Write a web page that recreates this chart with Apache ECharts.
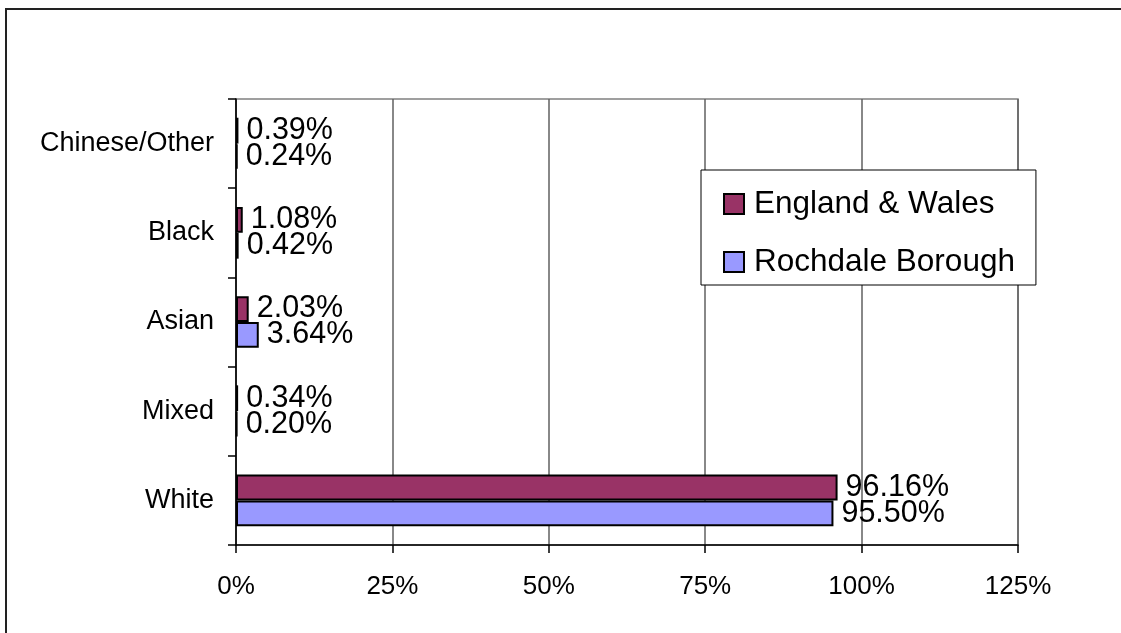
<!DOCTYPE html>
<html>
<head>
<meta charset="utf-8">
<script src="https://cdn.jsdelivr.net/npm/echarts@6/dist/echarts.min.js"></script>
<style>html,body{margin:0;padding:0;background:#fff;}#c{width:1121px;height:633px;}</style>
</head>
<body>
<div id="c"></div>
<script>
const categories = ['White', 'Mixed', 'Asian', 'Black', 'Chinese/Other'];
const englandWales = [96.16, 0.34, 2.03, 1.08, 0.39];
const rochdale = [95.50, 0.20, 3.64, 0.42, 0.24];
const seriesNames = ['England & Wales', 'Rochdale Borough'];
const xTicks = { min: 0, max: 125, interval: 25 };

const FONT = '"Liberation Sans", Arial, sans-serif';
const chart = echarts.init(document.getElementById('c'), null, { renderer: 'canvas' });

function barSeries(name, data, color) {
  return {
    name: name,
    type: 'bar',
    data: data,
    barGap: '0%',
    barCategoryGap: '42%',
    itemStyle: { color: color, borderColor: '#000', borderWidth: 2 },
    label: {
      show: true,
      position: 'right',
      distance: 8,
      color: '#000',
      fontFamily: FONT,
      fontSize: 30.5,
      formatter: p => p.value.toFixed(2) + '%'
    },
    emphasis: { disabled: true },
    animation: false
  };
}

chart.setOption({
  animation: false,
  backgroundColor: '#fff',
  graphic: [{
    type: 'rect',
    shape: { x: 6, y: 9, width: 1200, height: 700 },
    style: { fill: 'none', stroke: '#222', lineWidth: 2 },
    silent: true,
    z: -10
  }],
  grid: {
    left: 236, right: 103, top: 99, bottom: 88,
    show: true, borderColor: '#808080', borderWidth: 1.5, backgroundColor: 'transparent'
  },
  legend: {
    orient: 'vertical',
    left: 701, top: 170,
    padding: [18, 21, 7, 22],
    backgroundColor: '#fff',
    borderColor: '#000',
    borderWidth: 1,
    itemWidth: 20, itemHeight: 20,
    itemGap: 26,
    icon: 'rect',
    textStyle: { fontFamily: FONT, fontSize: 31.5, color: '#000', lineHeight: 30, padding: [0, 0, 0, 5] },
    data: seriesNames,
    selectedMode: false
  },
  xAxis: {
    type: 'value',
    min: xTicks.min, max: xTicks.max, interval: xTicks.interval,
    axisLine: { show: true, lineStyle: { color: '#000', width: 1.5 } },
    axisTick: { show: true, length: 8, lineStyle: { color: '#000', width: 1.5 } },
    splitLine: { show: true, lineStyle: { color: '#606060', width: 1.5 } },
    axisLabel: { fontFamily: FONT, fontSize: 26, color: '#000', margin: 29, formatter: '{value}%' }
  },
  yAxis: {
    type: 'category',
    data: categories,
    axisLine: { show: true, lineStyle: { color: '#000', width: 1.5 } },
    axisTick: { show: true, length: 8, lineStyle: { color: '#000', width: 1.5 } },
    axisLabel: { fontFamily: FONT, fontSize: 27, color: '#000', margin: 22 }
  },
  series: [
    barSeries(seriesNames[0], englandWales, '#993366'),
    barSeries(seriesNames[1], rochdale, '#9999FF')
  ]
});
</script>
</body>
</html>
